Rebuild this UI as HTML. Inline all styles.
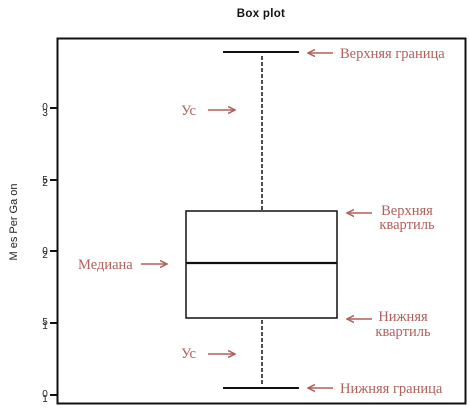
<!DOCTYPE html>
<html><head><meta charset="utf-8"><style>
html,body{margin:0;padding:0;background:#fff;}
svg{display:block;}
.r{font-family:"Liberation Serif","DejaVu Serif",serif;font-size:14.5px;fill:#b0605b;}
.ax{font-family:"Liberation Sans",sans-serif;font-size:10px;fill:#222;}
</style></head><body>
<svg width="470" height="409" viewBox="0 0 470 409" xmlns="http://www.w3.org/2000/svg">
<defs>
<marker id="ah" markerWidth="8" markerHeight="8" refX="7" refY="4" orient="auto" markerUnits="userSpaceOnUse">
<path d="M0,0.5 L7,4 L0,7.5" fill="none" stroke="#b0605b" stroke-width="1.5"/>
</marker>
</defs>
<text x="261" y="17" text-anchor="middle" font-family="Liberation Sans,sans-serif" font-weight="bold" font-size="11.5" letter-spacing="0.3" fill="#111">Box plot</text>
<rect x="57.5" y="38.5" width="408" height="365" fill="none" stroke="#111" stroke-width="2"/>
<g stroke="#111" stroke-width="2">
<line x1="50" y1="108" x2="57" y2="108"/>
<line x1="50" y1="180" x2="57" y2="180"/>
<line x1="50" y1="251" x2="57" y2="251"/>
<line x1="50" y1="323" x2="57" y2="323"/>
<line x1="50" y1="395" x2="57" y2="395"/>
</g>
<g class="ax" text-anchor="middle">
<text x="45" y="110">0</text><text x="45" y="116">3</text>
<text x="45" y="183">5</text><text x="45" y="186">2</text>
<text x="45" y="254">0</text><text x="45" y="258">2</text>
<text x="45" y="325">5</text><text x="45" y="329">1</text>
<text x="45" y="397">0</text><text x="45" y="402">1</text>
</g>
<text transform="translate(17,222) rotate(-90)" text-anchor="middle" font-family="Liberation Sans,sans-serif" font-size="11" fill="#222">M es Per Ga on</text>
<g stroke="#111" stroke-width="2">
<line x1="223" y1="52" x2="299" y2="52"/>
<line x1="223" y1="388" x2="299" y2="388"/>
<rect x="186" y="211" width="151" height="107" fill="none" stroke-width="1.5"/>
<line x1="186" y1="263" x2="337" y2="263" stroke-width="2.2"/>
</g>
<g stroke="#111" stroke-width="1.5" stroke-dasharray="4,2">
<line x1="262" y1="56" x2="262" y2="210"/>
<line x1="262" y1="320" x2="262" y2="384"/>
</g>
<g stroke="#b0605b" stroke-width="1.5" marker-end="url(#ah)">
<line x1="208" y1="110" x2="235" y2="110"/>
<line x1="141" y1="264" x2="167" y2="264"/>
<line x1="208" y1="354" x2="235" y2="354"/>
<line x1="333" y1="53" x2="308" y2="53"/>
<line x1="372" y1="213" x2="347" y2="213"/>
<line x1="372" y1="319" x2="347" y2="319"/>
<line x1="333" y1="388" x2="308" y2="388"/>
</g>
<text class="r" x="181" y="115">Ус</text>
<text class="r" x="181" y="358">Ус</text>
<text class="r" x="78" y="269">Медиана</text>
<text class="r" x="340" y="58">Верхняя граница</text>
<text class="r" x="340" y="393">Нижняя граница</text>
<text class="r" x="407" y="215" text-anchor="middle">Верхняя</text>
<text class="r" x="407" y="229" text-anchor="middle">квартиль</text>
<text class="r" x="403" y="321" text-anchor="middle">Нижняя</text>
<text class="r" x="403" y="336" text-anchor="middle">квартиль</text>
</svg>
</body></html>
